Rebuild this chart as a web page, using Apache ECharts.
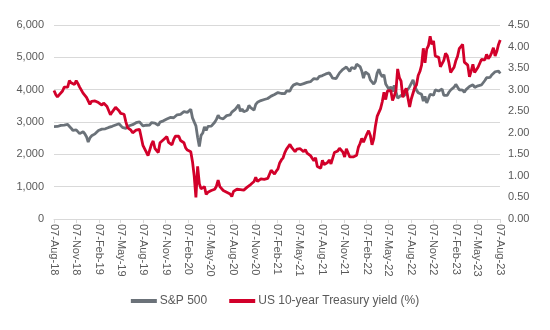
<!DOCTYPE html>
<html><head><meta charset="utf-8">
<script src="https://cdn.jsdelivr.net/npm/echarts@6/dist/echarts.min.js"></script>
<style>html,body{margin:0;padding:0;background:#fff}#c{width:550px;height:330px}</style>
</head><body><div id="c"></div>
<script>
// Weekly observations (Tuesdays) starting 07-Aug-2018
const startDate = [2018, 7, 7];
const spx2018 = [2858,2840,2862,2897,2896,2887,2905,2916,2923,2881,2809,2740,2682,2755,2722,2641,2682,2700,2637,2546,2380];
const spx2019 = [2507,2574,2610,2633,2640,2737,2744,2780,2793,2789,2791,2832,2818,2867,2878,2907,2933,2945,2884,2834,2864,2802,2803,2885,2917,2917,2973,2979,3004,3005,3013,2881,2926,2900,2869,2906,2979,3006,2966,2940,2893,2996,2995,3036,3074,3091,3120,3140,3093,3132,3192,3223,3231];
const spx2020 = [3237,3283,3321,3276,3298,3358,3390,3128,3003,2882,2529,2240,2585,2659,2846,2737,2863,2868,2870,2922,2992,3081,3207,3124,3131,3100,3145,3197,3257,3218,3306,3333,3390,3443,3527,3332,3401,3316,3335,3361,3512,3443,3391,3369,3545,3610,3635,3662,3702,3695,3687,3727];
const spx2021 = [3726,3801,3798,3849,3826,3911,3933,3881,3870,3875,3962,3910,3959,4074,4141,4135,4187,4165,4152,4127,4188,4202,4227,4246,4246,4291,4343,4369,4323,4401,4423,4436,4448,4486,4523,4520,4443,4354,4352,4345,4351,4519,4575,4630,4685,4700,4690,4567,4686,4635,4649,4786];
const spx2022 = [4793,4713,4577,4357,4546,4521,4471,4305,4306,4171,4262,4512,4632,4482,4397,4462,4176,4175,4001,4088,3941,4132,4161,3735,3765,3821,3831,3819,3937,3921,4091,4122,4305,4128,3986,3908,3932,3856,3647,3791,3588,3720,3859,3856,3828,3992,4003,3958,3941,4019,3821,3829];
const spx2023 = [3824,3919,3990,4017,4077,4164,4136,3997,3970,3986,3920,4002,3971,4100,4109,4154,4071,4119,4119,4109,4145,4205,4283,4369,4388,4378,4455,4439,4554,4567,4577,4499];

const ust2018 = [2.98,2.89,2.83,2.88,2.90,2.97,3.06,3.10,3.06,3.21,3.16,3.17,3.12,3.21,3.14,3.06,3.06,2.92,2.89,2.82,2.74];
const ust2019 = [2.66,2.73,2.71,2.74,2.72,2.70,2.68,2.64,2.69,2.72,2.61,2.61,2.42,2.48,2.50,2.59,2.57,2.51,2.45,2.42,2.43,2.26,2.12,2.14,2.06,2.00,1.98,2.06,2.10,2.08,2.06,1.71,1.68,1.55,1.47,1.47,1.73,1.81,1.64,1.64,1.54,1.77,1.77,1.84,1.86,1.91,1.78,1.74,1.72,1.84,1.92,1.90,1.92];
const ust2020 = [1.82,1.81,1.77,1.65,1.60,1.59,1.56,1.33,1.00,0.50,1.22,0.82,0.70,0.72,0.75,0.57,0.62,0.66,0.66,0.70,0.69,0.76,0.90,0.75,0.71,0.66,0.65,0.62,0.61,0.58,0.52,0.64,0.68,0.69,0.68,0.68,0.68,0.67,0.68,0.74,0.73,0.80,0.78,0.87,0.97,0.87,0.88,0.93,0.92,0.92,0.92,0.94];
const ust2021 = [0.96,1.13,1.09,1.04,1.11,1.16,1.30,1.37,1.42,1.54,1.62,1.63,1.73,1.66,1.62,1.56,1.62,1.59,1.63,1.64,1.56,1.61,1.53,1.50,1.47,1.47,1.35,1.42,1.22,1.24,1.18,1.36,1.26,1.29,1.31,1.37,1.28,1.32,1.54,1.53,1.58,1.64,1.62,1.55,1.44,1.63,1.67,1.44,1.48,1.44,1.48,1.48];
const ust2022 = [1.66,1.75,1.87,1.78,1.79,1.97,2.05,1.94,1.72,1.86,2.16,2.38,2.40,2.56,2.72,2.94,2.77,2.97,2.99,2.98,2.75,2.85,2.98,3.48,3.28,3.20,2.82,2.96,3.03,2.81,2.60,2.79,2.82,3.05,3.11,3.33,3.42,3.57,3.96,3.62,3.94,4.02,4.24,4.05,4.13,3.78,3.76,3.75,3.53,3.50,3.68,3.84];
const ust2023 = [3.79,3.62,3.40,3.46,3.52,3.67,3.77,3.95,4.00,4.05,3.64,3.60,3.57,3.30,3.43,3.59,3.40,3.44,3.52,3.54,3.70,3.69,3.69,3.82,3.72,3.77,3.86,3.97,3.78,3.89,4.05,4.15];

const tickLabels = ['07-Aug-18','07-Nov-18','07-Feb-19','07-May-19','07-Aug-19','07-Nov-19','07-Feb-20','07-May-20','07-Aug-20','07-Nov-20','07-Feb-21','07-May-21','07-Aug-21','07-Nov-21','07-Feb-22','07-May-22','07-Aug-22','07-Nov-22','07-Feb-23','07-May-23','07-Aug-23'];
const seriesNames = ['S&P 500','US 10-year Treasury yield (%)'];

const spx = [].concat(spx2018, spx2019, spx2020, spx2021, spx2022, spx2023);
const ust = [].concat(ust2018, ust2019, ust2020, ust2021, ust2022, ust2023);
const DAY = 86400000;
const t0 = Date.UTC(startDate[0], startDate[1], startDate[2]);
// x in days since start date
const days = spx.map((_, i) => i * 7);
const months = {Jan:0,Feb:1,Mar:2,Apr:3,May:4,Jun:5,Jul:6,Aug:7,Sep:8,Oct:9,Nov:10,Dec:11};
const tickDays = tickLabels.map(s => { const p = s.split('-'); return Math.round((Date.UTC(2000 + (+p[2]), months[p[1]], +p[0]) - t0) / DAY); });
const labelMap = {}; tickDays.forEach((t, i) => labelMap[t] = tickLabels[i]);

const chart = echarts.init(document.getElementById('c'));
const font = 'Liberation Sans, Arial, sans-serif';
chart.setOption({
  animation: false,
  textStyle: { fontFamily: font },
  grid: { left: 54, right: 50, top: 25, bottom: 111 },
  legend: {
    bottom: 18, left: 'center', icon: 'rect', itemWidth: 26, itemHeight: 4, itemGap: 22,
    textStyle: { fontFamily: font, fontSize: 12, color: '#595959', padding: [0,0,0,-2] },
    data: seriesNames
  },
  xAxis: {
    type: 'value', min: tickDays[0], max: tickDays[tickDays.length - 1],
    axisLine: { onZero: false, lineStyle: { color: '#d9d9d9' } },
    axisTick: { show: true, customValues: tickDays, length: 4, lineStyle: { color: '#d9d9d9' } },
    axisLabel: { customValues: tickDays, rotate: -90, margin: 5, fontSize: 11, color: '#595959', fontFamily: font,
      formatter: v => labelMap[Math.round(v)] || '' },
    splitLine: { show: false }
  },
  yAxis: [
    { type: 'value', min: 0, max: 6000, interval: 1000,
      axisLine: { show: false }, axisTick: { show: false },
      axisLabel: { fontSize: 11, color: '#595959', margin: 10, fontFamily: font, formatter: v => v.toLocaleString('en-US') },
      splitLine: { lineStyle: { color: '#d9d9d9' } } },
    { type: 'value', min: 0, max: 4.5, interval: 0.5, position: 'right',
      axisLine: { show: false }, axisTick: { show: false },
      axisLabel: { fontSize: 11, color: '#595959', margin: 8, fontFamily: font, formatter: v => v.toFixed(2) },
      splitLine: { show: false } }
  ],
  series: [
    { name: seriesNames[0], type: 'line', yAxisIndex: 0, showSymbol: false, symbol: 'none',
      data: days.map((d, i) => [d, spx[i]]), lineStyle: { color: '#6b7279', width: 2.8 }, itemStyle: { color: '#6b7279' } },
    { name: seriesNames[1], type: 'line', yAxisIndex: 1, showSymbol: false, symbol: 'none',
      data: days.map((d, i) => [d, ust[i]]), lineStyle: { color: '#d2002a', width: 2.8 }, itemStyle: { color: '#d2002a' } }
  ]
});
</script></body></html>
